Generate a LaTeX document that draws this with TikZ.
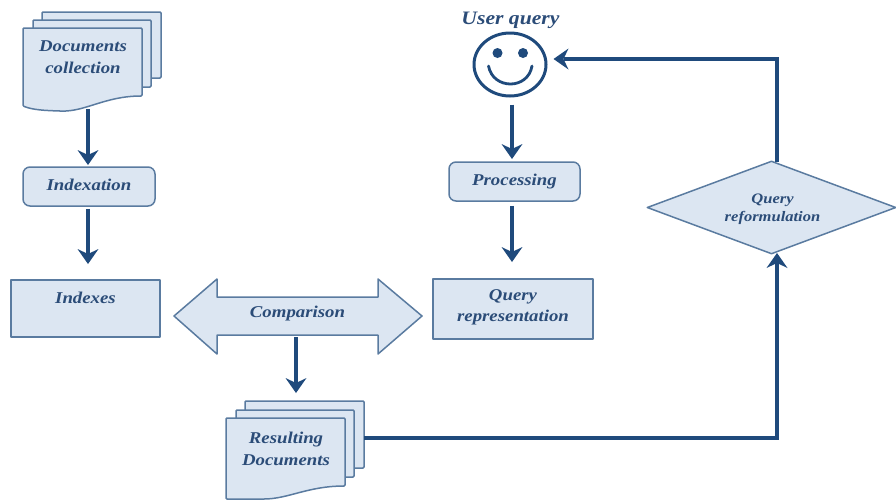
\documentclass[tikz,border=0pt]{standalone}
\usepackage{fontspec}
\setmainfont[FakeStretch=1.14]{Liberation Serif}
\usetikzlibrary{arrows.meta,shapes.geometric,calc}
\definecolor{boxfill}{HTML}{DCE6F2}
\definecolor{boxline}{HTML}{5A7BA0}
\definecolor{arrowcol}{HTML}{1F4A7C}
\definecolor{txtcol}{HTML}{2B4C78}
\tikzset{
  x=1pt,y=-1pt,
  lab/.style={font=\fontsize{16.5}{22}\selectfont\bfseries\itshape,text=txtcol,align=center,inner sep=0pt},
  sheet/.style={draw=boxline,fill=boxfill,line width=1.5pt,line join=round},
  flowbox/.style={sheet,lab,minimum width=#1,rounded corners=0pt},
  conn/.style={draw=arrowcol,line width=3.2pt,-{Stealth[length=15pt,width=21pt,inset=5pt,line width=0pt]}},
}
\begin{document}
\begin{tikzpicture}
\useasboundingbox (0,0) rectangle (896,499);
% Documents collection
\path[sheet,rounded corners=1pt] (42,12) rectangle (161,78);
\path[sheet,rounded corners=1pt] (33,20) rectangle (151,87);
\path[sheet,rounded corners=1pt] (23,28) -- (142,28) -- (142,96) .. controls (105,96) and (85,112) .. (60,111) .. controls (45,110.5) and (33,110) .. (23,106) -- cycle;
\node[lab,minimum width=119pt,minimum height=79pt] (docA) at (82.5,67.5) {};
\node[lab] (docAt) at (83,57) {Documents\\collection};
% Indexation
\node[flowbox=132pt,minimum height=39pt,rounded corners=7pt] (idx) at (89,186.5) {\raisebox{4pt}{Indexation}};
% Indexes
\node[flowbox=149pt,minimum height=57pt] (ixs) at (85.5,308.5) {\raisebox{22pt}{Indexes}};
% User query
\node[lab,font=\fontsize{19}{22}\selectfont\bfseries\itshape] (uq) at (510.5,20) {User query};
\node[draw=arrowcol,line width=3pt,ellipse,minimum width=72pt,minimum height=63pt,inner sep=0pt,fill=white] (smile) at (510,64.5) {};
\fill[arrowcol] (497.5,53) circle (5);
\fill[arrowcol] (523,53) circle (5);
\draw[arrowcol,line width=2.8pt,line cap=round] (488.5,66) .. controls (493,90) and (528,90) .. (532,66);
% Processing
\node[flowbox=131pt,minimum height=39pt,rounded corners=7pt] (proc) at (514.5,181.5) {\raisebox{4pt}{Processing}};
% Query representation
\node[flowbox=160pt,minimum height=60pt] (qr) at (513,309) {};
\node[lab] (qrt) at (513,307) {Query\\[-1pt]representation};
% Comparison
\path[sheet] (174,316) -- (217,279) -- (217,297) -- (378,297) -- (378,279) -- (422,316) -- (378,354) -- (378,335) -- (217,335) -- (217,354) -- cycle;
\node[lab,minimum width=161pt,minimum height=38pt] (cmp) at (297.5,316) {\raisebox{8pt}{Comparison}};
% Resulting documents
\path[sheet,rounded corners=1pt] (245,401) rectangle (364,468);
\node[inner sep=0pt,minimum width=119pt,minimum height=67pt] (docRb) at (304.5,434.5) {};
\path[sheet,rounded corners=1pt] (236,410) rectangle (354,477);
\path[sheet,rounded corners=1pt] (226,418) -- (345,418) -- (345,486) .. controls (308,486) and (288,499) .. (263,499) -- (226,499) -- cycle;
\node[lab,minimum width=119pt,minimum height=79pt] (docR) at (285.5,457.5) {};
\node[lab] (docRt) at (286,448.5) {Resulting\\Documents};
% Query reformulation
\node[sheet,diamond,aspect=2.68,minimum width=249pt,minimum height=93pt,inner sep=0pt] (qf) at (771.5,207.5) {};
\node[lab,font=\fontsize{14.5}{18}\selectfont\bfseries\itshape] (qft) at (772.5,209.5) {Query\\reformulation};
% Connectors
\draw[conn] (docA.south -| 88,0) ++(0,2) -- (88,165);
\draw[conn] (idx.south -| 88,0) ++(0,2) -- (88,264);
\draw[conn] (smile.south -| 512,0) ++(0,7) -- (512,159);
\draw[conn] (proc.south -| 512,0) ++(0,4) -- (512,262);
\draw[conn] (cmp.south -| 296,0) ++(0,2) -- (296,393);
\draw[conn] ([yshift=-3.5pt]docRb.east) -- (777,438) -- (777,253);
\draw[conn] (777,162) -- (777,59) -- ($(smile.east)+(6,-5.5)$);
\end{tikzpicture}
\end{document}
